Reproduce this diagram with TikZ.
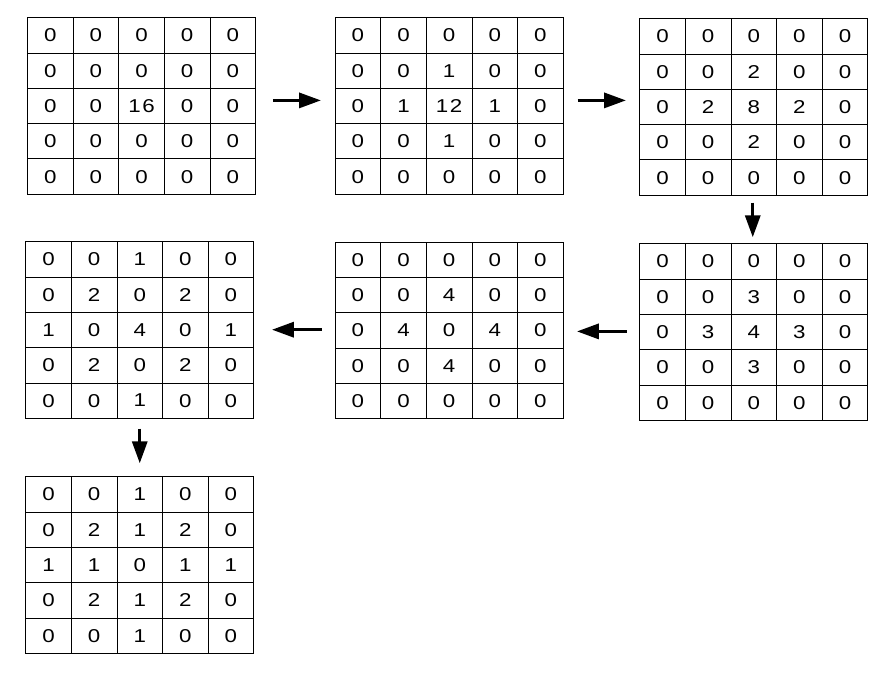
\documentclass[tikz,border=0pt]{standalone}
\usepackage{fontspec}
\newfontfamily\cellfont[FakeStretch=1.2]{Liberation Sans}
\usetikzlibrary{matrix,arrows.meta}
\begin{document}
\begin{tikzpicture}[x=1pt,y=-1pt,
  grid/.style={matrix of nodes, inner sep=0pt, outer sep=0pt, anchor=north west,
    column sep=-0.9pt, row sep=-0.9pt,
    nodes={draw, line width=0.9pt, minimum width=45.6pt, minimum height=35.3pt,
      inner sep=0pt, anchor=center, font=\cellfont\fontsize{18.6}{20}\selectfont}},
  arr/.style={line width=3.3pt, -{Triangle[length=22pt,width=15pt]}}]
\useasboundingbox (0,0) rectangle (890,684);

\matrix (g1) [grid] at (27.1,17.3) {
0 & 0 & 0 & 0 & 0\\
0 & 0 & 0 & 0 & 0\\
0 & 0 & 1\kern1.5pt6 & 0 & 0\\
0 & 0 & 0 & 0 & 0\\
0 & 0 & 0 & 0 & 0\\
};
\matrix (g2) [grid] at (334.7,17.3) {
0 & 0 & 0 & 0 & 0\\
0 & 0 & 1 & 0 & 0\\
0 & 1 & 1\kern1.5pt2 & 1 & 0\\
0 & 0 & 1 & 0 & 0\\
0 & 0 & 0 & 0 & 0\\
};
\matrix (g3) [grid] at (639.3,18.3) {
0 & 0 & 0 & 0 & 0\\
0 & 0 & 2 & 0 & 0\\
0 & 2 & 8 & 2 & 0\\
0 & 0 & 2 & 0 & 0\\
0 & 0 & 0 & 0 & 0\\
};
\matrix (g4) [grid] at (639.3,243.3) {
0 & 0 & 0 & 0 & 0\\
0 & 0 & 3 & 0 & 0\\
0 & 3 & 4 & 3 & 0\\
0 & 0 & 3 & 0 & 0\\
0 & 0 & 0 & 0 & 0\\
};
\matrix (g5) [grid] at (334.7,241.7) {
0 & 0 & 0 & 0 & 0\\
0 & 0 & 4 & 0 & 0\\
0 & 4 & 0 & 4 & 0\\
0 & 0 & 4 & 0 & 0\\
0 & 0 & 0 & 0 & 0\\
};
\matrix (g6) [grid] at (25.3,241.3) {
0 & 0 & 1 & 0 & 0\\
0 & 2 & 0 & 2 & 0\\
1 & 0 & 4 & 0 & 1\\
0 & 2 & 0 & 2 & 0\\
0 & 0 & 1 & 0 & 0\\
};
\matrix (g7) [grid] at (25.3,476.3) {
0 & 0 & 1 & 0 & 0\\
0 & 2 & 1 & 2 & 0\\
1 & 1 & 0 & 1 & 1\\
0 & 2 & 1 & 2 & 0\\
0 & 0 & 1 & 0 & 0\\
};

\draw[arr] ([xshift=16.9pt,yshift=5.6pt]g1.east) -- ([xshift=-13.7pt,yshift=5.6pt]g2.west);
\draw[arr] ([xshift=14pt,yshift=5.6pt]g2.east) -- ([xshift=-13.3pt,yshift=6.6pt]g3.west);
\draw[arr] ([xshift=-1pt,yshift=-7pt]g3.south) -- ([xshift=-1pt,yshift=6pt]g4.north);
\draw[arr] ([xshift=-12.6pt,yshift=0.6pt]g4.west) -- ([xshift=13.3pt,yshift=-1pt]g5.east);
\draw[arr] ([xshift=-13pt,yshift=0.7pt]g5.west) -- ([xshift=17.7pt,yshift=0.3pt]g6.east);
\draw[arr] ([yshift=-10pt]g6.south) -- ([yshift=13pt]g7.north);
\end{tikzpicture}
\end{document}
